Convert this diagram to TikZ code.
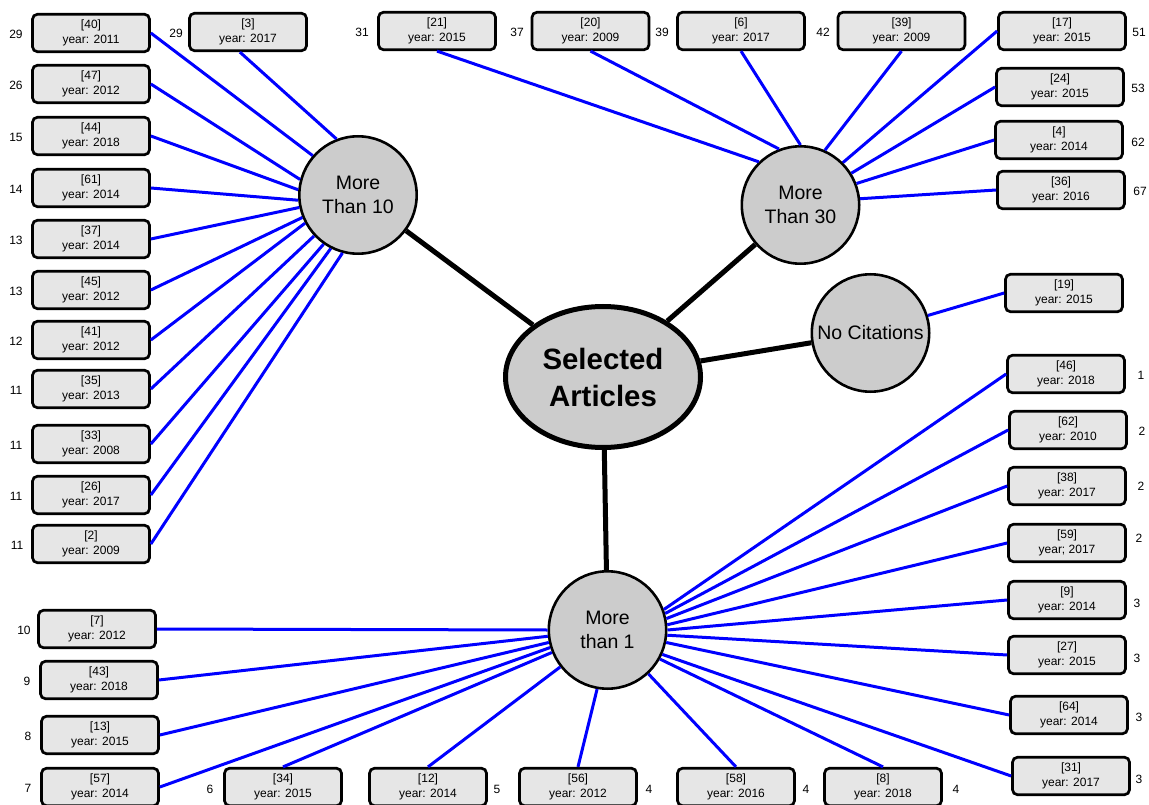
\documentclass[tikz,border=0pt]{standalone}
\usepackage{fontspec}
\setmainfont{Liberation Sans}
\usetikzlibrary{shapes.geometric}
\definecolor{boxfill}{HTML}{E6E6E6}
\definecolor{hubfill}{HTML}{CCCCCC}
\definecolor{linkblue}{HTML}{0000FF}
\tikzset{
  ref/.style={draw=black, line width=2.7pt, fill=boxfill, rounded corners=5pt,
    minimum width=117pt, minimum height=37.5pt, inner sep=0pt, align=center,
    font=\fontsize{12}{15}\selectfont},
  wideref/.style={ref, minimum width=127pt},
  hub/.style={circle, draw=black, line width=2.6pt, fill=hubfill, minimum size=117.4pt,
    inner sep=1pt, align=center, font=\fontsize{19.5}{24}\selectfont},
  root/.style={ellipse, draw=black, line width=5pt, fill=hubfill, minimum width=195pt,
    minimum height=141pt, inner sep=0pt, align=center,
    font=\fontsize{29.4}{37}\selectfont\bfseries},
  cites/.style={font=\fontsize{12}{14}\selectfont, inner sep=0pt},
  trunk/.style={line width=5pt, black},
  link/.style={line width=3pt, linkblue},
}
\begin{document}
\begin{tikzpicture}[x=1pt, y=-1pt]
\useasboundingbox (0,0) rectangle (1149,805);

% hubs
\node[root] (sel) at (603,377) {Selected\\Articles};
\node[hub] (m10) at (358,195) {More\\Than 10};
\node[hub] (m30) at (800.5,205) {More\\Than 30};
\node[hub] (nc) at (870.5,333) {No Citations};
\node[hub] (m1) at (607.5,630) {More\\than 1};

\draw[trunk] (sel) -- (m10);
\draw[trunk] (sel) -- (m30);
\draw[trunk] (sel) -- (nc);
\draw[trunk] (sel) -- (m1);

% more than 10 citations
\node[ref] (b40) at (91,33) {[40]\\year: 2011};
\node[ref] (b47) at (91,84) {[47]\\year: 2012};
\node[ref] (b44) at (91,136) {[44]\\year: 2018};
\node[ref] (b61) at (91,188) {[61]\\year: 2014};
\node[ref] (b37) at (91,239) {[37]\\year: 2014};
\node[ref] (b45) at (91,290) {[45]\\year: 2012};
\node[ref] (b41) at (91,340) {[41]\\year: 2012};
\node[ref] (b35) at (91,389) {[35]\\year: 2013};
\node[ref] (b33) at (91,444) {[33]\\year: 2008};
\node[ref] (b26) at (91,495) {[26]\\year: 2017};
\node[ref] (b2) at (91,544) {[2]\\year: 2009};
\node[ref] (b3) at (248,32) {[3]\\year: 2017};

\node[cites] (c40) at (16,34) {29};
\node[cites] (c47) at (16,85) {26};
\node[cites] (c44) at (16,137) {15};
\node[cites] (c61) at (16,189) {14};
\node[cites] (c37) at (16,240) {13};
\node[cites] (c45) at (16,291) {13};
\node[cites] (c41) at (16,341) {12};
\node[cites] (c35) at (16,390) {11};
\node[cites] (c33) at (16,445) {11};
\node[cites] (c26) at (16,496) {11};
\node[cites] (c2) at (17,545) {11};
\node[cites] (c3) at (176,33) {29};

\draw[link] (b3.248) -- (m10.111);
\draw[link] (b40.east) -- (m10.139);
\draw[link] (b47.east) -- (m10.165);
\draw[link] (b44.east) -- (m10.175);
\draw[link] (b61.east) -- (m10.185);
\draw[link] (b37.east) -- (m10.192);
\draw[link] (b45.east) -- (m10.202);
\draw[link] (b41.east) -- (m10.208);
\draw[link] (b35.east) -- (m10.223);
\draw[link] (b33.east) -- (m10.235);
\draw[link] (b26.east) -- (m10.243);
\draw[link] (b2.east) -- (m10.255);

% more than 30 citations
\node[ref] (b21) at (437,31) {[21]\\year: 2015};
\node[ref] (b20) at (590.5,31) {[20]\\year: 2009};
\node[wideref] (b6) at (741,31) {[6]\\year: 2017};
\node[wideref] (b39) at (901.5,31) {[39]\\year: 2009};
\node[wideref] (b17) at (1062,31) {[17]\\year: 2015};
\node[wideref] (b24) at (1060,87) {[24]\\year: 2015};
\node[wideref] (b4) at (1059,140) {[4]\\year: 2014};
\node[wideref] (b36) at (1061,190) {[36]\\year: 2016};

\node[cites] (c21) at (362,32) {31};
\node[cites] (c20) at (517,32) {37};
\node[cites] (c6) at (662,32) {39};
\node[cites] (c39) at (823,32) {42};
\node[cites] (c17) at (1139,32) {51};
\node[cites] (c24) at (1138,88) {53};
\node[cites] (c4) at (1138,142) {62};
\node[cites] (c36) at (1140,191) {67};

\draw[link] (b21.south) -- (m30.134);
\draw[link] (b20.south) -- (m30.111);
\draw[link] (b6.south) -- (m30.90);
\draw[link] (b39.south) -- (m30.66);
\draw[link] (b17.west) -- (m30.45);
\draw[link] (b24.west) -- (m30.32);
\draw[link] (b4.west) -- (m30.21);
\draw[link] (b36.west) -- (m30.6);

% no citations
\node[ref] (b19) at (1064,293) {[19]\\year: 2015};
\draw[link] (b19.west) -- (nc.17);

% more than 1 citation
\node[ref] (b7) at (97,629) {[7]\\year: 2012};
\node[ref] (b43) at (99,680) {[43]\\year: 2018};
\node[ref] (b13) at (100,735) {[13]\\year: 2015};
\node[ref] (b57) at (100,787) {[57]\\year: 2014};
\node[ref] (b34) at (283,787) {[34]\\year: 2015};
\node[ref] (b12) at (428,787) {[12]\\year: 2014};
\node[ref] (b56) at (578,787) {[56]\\year: 2012};
\node[ref] (b58) at (736,787) {[58]\\year: 2016};
\node[ref] (b8) at (883,787) {[8]\\year: 2018};
\node[ref] (b31) at (1071,776) {[31]\\year: 2017};
\node[ref] (b64) at (1069,715) {[64]\\year: 2014};
\node[ref] (b27) at (1067,655) {[27]\\year: 2015};
\node[ref] (b9) at (1067,600) {[9]\\year: 2014};
\node[ref] (b59) at (1067,543) {[59]\\year; 2017};
\node[ref] (b38) at (1067,486) {[38]\\year: 2017};
\node[ref] (b62) at (1068,430) {[62]\\year: 2010};
\node[ref] (b46) at (1066,374) {[46]\\year: 2018};

\node[cites] (c7) at (24,630) {10};
\node[cites] (c43) at (27,681) {9};
\node[cites] (c13) at (28,736) {8};
\node[cites] (c57) at (28,788) {7};
\node[cites] (c34) at (210,789) {6};
\node[cites] (c12) at (497,789) {5};
\node[cites] (c56) at (649,789) {4};
\node[cites] (c58) at (806,789) {4};
\node[cites] (c8) at (956,789) {4};
\node[cites] (c31) at (1139,779) {3};
\node[cites] (c64) at (1139,717) {3};
\node[cites] (c27) at (1137,658) {3};
\node[cites] (c9) at (1137,603) {3};
\node[cites] (c59) at (1139,538) {2};
\node[cites] (c38) at (1141,486) {2};
\node[cites] (c62) at (1142,431) {2};
\node[cites] (c46) at (1141,375) {1};

\draw[link] (b7.east) -- (m1.180);
\draw[link] (b43.east) -- (m1.186);
\draw[link] (b13.east) -- (m1.192);
\draw[link] (b57.east) -- (m1.197);
\draw[link] (b34.north) -- (m1.202);
\draw[link] (b12.north) -- (m1.218);
\draw[link] (b56.north) -- (m1.260);
\draw[link] (b58.north) -- (m1.313);
\draw[link] (b8.north) -- (m1.331);
\draw[link] (b31.west) -- (m1.336);
\draw[link] (b64.west) -- (m1.348);
\draw[link] (b27.west) -- (m1.355);
\draw[link] (b9.west) -- (m1.0);
\draw[link] (b59.west) -- (m1.5);
\draw[link] (b38.west) -- (m1.11);
\draw[link] (b62.west) -- (m1.16);
\draw[link] (b46.west) -- (m1.20);
\end{tikzpicture}
\end{document}
